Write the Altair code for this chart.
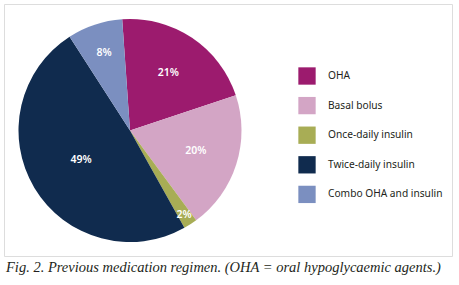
import altair as alt
import pandas as pd
import math

categories = ["OHA", "Basal bolus", "Once-daily insulin", "Twice-daily insulin", "Combo OHA and insulin"]
values = [21, 20, 2, 49, 8]
labels = ["21%", "20%", "2%", "49%", "8%"]
colors = ["#9c1b6e", "#d3a5c5", "#a8ad55", "#102b4e", "#7b8fc0"]

df = pd.DataFrame({
    "category": categories,
    "value": values,
    "label": labels,
    "order": list(range(len(categories))),
})

total = sum(values)
start = -0.07
theta_scale = alt.Scale(domain=[0, total], range=[start, 2 * math.pi + start])
color_scale = alt.Scale(domain=categories, range=colors)

cx, cy = 126, 126.5

pie = alt.Chart(df).mark_arc(outerRadius=111.5).encode(
    theta=alt.Theta("value:Q", stack=True, scale=theta_scale),
    order=alt.Order("order:Q"),
    x=alt.value(cx),
    y=alt.value(cy),
    color=alt.Color(
        "category:N",
        scale=color_scale,
        sort=categories,
        legend=alt.Legend(
            title=None,
            orient="none",
            legendX=294,
            legendY=63,
            symbolType="square",
            symbolSize=300,
            symbolStrokeWidth=0,
            symbolOpacity=1,
            labelFont="Noto Sans",
            labelFontSize=10.2,
            labelColor="#231f20",
            labelOffset=12,
            rowPadding=11.6,
            padding=0,
        ),
    ),
)

label_radius_expr = (
    "datum.category == 'Once-daily insulin' ? 100 : "
    "datum.category == 'Combo OHA and insulin' ? 82 : "
    "datum.category == 'Twice-daily insulin' ? 57 : 69"
)

texts = alt.Chart(df).transform_window(
    cum="sum(value)", sort=[alt.SortField("order")], frame=[None, 0]
).transform_calculate(
    mid="datum.cum - datum.value / 2",
    r=label_radius_expr,
).mark_text(
    font="Noto Sans", fontSize=10.5, fontWeight=600, color="white"
).encode(
    theta=alt.Theta("mid:Q", stack=False, scale=theta_scale),
    radius=alt.Radius("r:Q", scale=None),
    x=alt.value(cx),
    y=alt.value(cy),
    text="label:N",
)

chart = alt.layer(pie, texts).properties(
    width=448,
    height=252,
    padding={"left": 4, "top": 4, "right": 7, "bottom": 29},
    autosize=alt.AutoSizeParams(type="none"),
    title=alt.TitleParams(
        "Fig. 2. Previous medication regimen. (OHA = oral hypoglycaemic agents.)",
        orient="bottom",
        anchor="start",
        font="Liberation Serif",
        fontStyle="italic",
        fontWeight="normal",
        fontSize=14.5,
        color="#231f20",
        offset=5,
        dx=2,
    ),
).configure_view(
    stroke="#231f20",
    strokeWidth=1,
).configure(background="white")

chart.save("out.html", embed_options={"renderer": "svg", "actions": False})
